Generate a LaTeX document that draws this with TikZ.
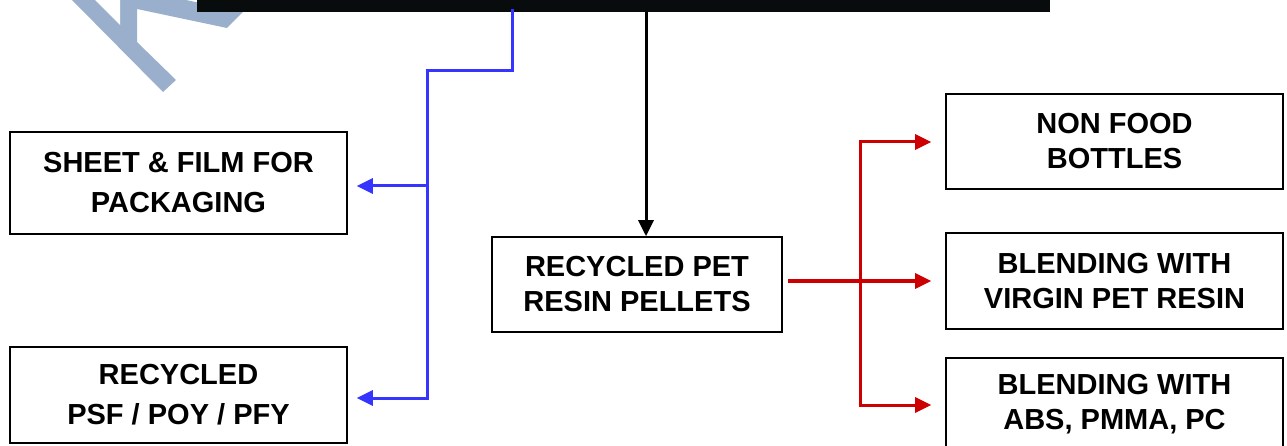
\documentclass[tikz,border=0pt]{standalone}
\usepackage{fontspec}
\setmainfont{Liberation Sans}
\usetikzlibrary{arrows.meta}
\definecolor{wmark}{HTML}{9AAFCB}
\definecolor{barblack}{HTML}{080C0C}
\definecolor{lineblue}{HTML}{3535FF}
\definecolor{linered}{HTML}{CC0000}
\tikzset{
  boxnode/.style={draw=black, line width=1.6pt, inner sep=0pt, align=center,
    font=\bfseries\fontsize{29}{35}\selectfont},
  widebox/.style={boxnode, font=\bfseries\fontsize{29}{40}\selectfont},
  blueline/.style={draw=lineblue, line width=3pt},
  redline/.style={draw=linered, line width=3pt},
  blackline/.style={draw=black, line width=3pt},
  tip/.style={-{Triangle[length=16pt,width=15pt]}}
}
\begin{document}
\begin{tikzpicture}[x=1pt,y=-1pt]
\useasboundingbox (0,0) rectangle (1287,446);
% watermark fragment
\fill[wmark] (72,-2) -- (72,0) -- (163,92) -- (176,80) -- (137,42) -- (137,9)
  -- (227,28) -- (243,12) -- (186,0) -- (186,-2) -- cycle;
\fill[white] (120,-3) -- (120,25) -- (95,0) -- (95,-3) -- cycle;
% top bar
\node[fill=barblack, minimum width=853pt, minimum height=22pt, inner sep=0pt,
  anchor=south west] (bar) at (197,12) {};
% boxes
\node[widebox, minimum width=337pt, minimum height=102pt] (sheet) at (178.5,183)
  {SHEET \& FILM FOR\\PACKAGING};
\node[widebox, minimum width=337pt, minimum height=96pt] (psf) at (178.5,395)
  {RECYCLED\\PSF / POY / PFY};
\node[boxnode, minimum width=290pt, minimum height=95pt] (pellets) at (637,284.5)
  {RECYCLED PET\\RESIN PELLETS};
\node[boxnode, minimum width=337pt, minimum height=95pt] (nonfood) at (1114.5,141.5)
  {NON FOOD\\BOTTLES};
\node[boxnode, minimum width=337pt, minimum height=96pt] (virgin) at (1114.5,281)
  {BLENDING WITH\\VIRGIN PET RESIN};
\node[boxnode, minimum width=337pt, minimum height=92pt] (abs) at (1114.5,404)
  {BLENDING WITH\\ABS, PMMA, PC};
% coordinates
\coordinate (btop) at (512,9);
\coordinate (bknee) at (512,71);
\coordinate (bcorner) at (427,71);
\coordinate (bmid) at (427,186);
\coordinate (bbot) at (427,398);
\coordinate (ktop) at (646,12);
\coordinate (rstart) at (788,281);
\coordinate (rtop) at (860,142);
\coordinate (rmid) at (860,281);
\coordinate (rbot) at (860,405);
% blue connectors
\draw[blueline, line join=miter] (btop) -- (bknee) -- (bcorner) -- (bbot);
\draw[blueline, tip] ([xshift=1.5pt]bbot) -- ([xshift=9pt]bbot -| psf.east);
\draw[blueline, tip] (bmid) -- ([xshift=9pt]bmid -| sheet.east);
% black connector
\draw[blackline, tip] (ktop) -- (ktop |- pellets.north);
% red connectors
\draw[redline] (rstart) -- (rmid);
\draw[redline, line join=miter, tip] ([yshift=1.5pt]rbot) -- (rtop) -- ([xshift=-14pt]rtop -| nonfood.west);
\draw[redline, tip] (rmid) -- ([xshift=-14pt]rmid -| virgin.west);
\draw[redline, tip] ([xshift=-1.5pt]rbot) -- ([xshift=-14pt]rbot -| abs.west);
\end{tikzpicture}
\end{document}
